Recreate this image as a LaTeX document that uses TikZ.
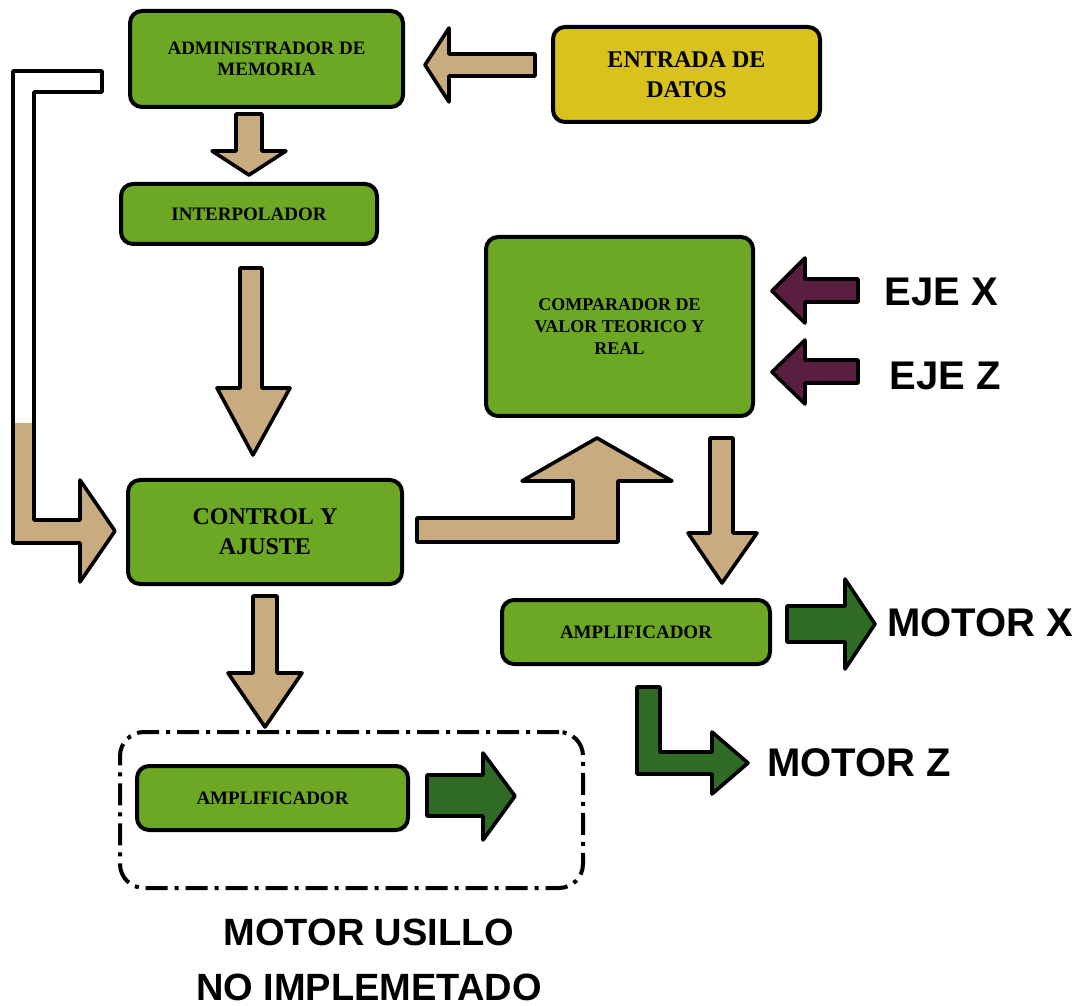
\documentclass[tikz,border=0pt]{standalone}
\usepackage{fontspec}
\setmainfont{Liberation Serif}
\newfontfamily\labelfont{Liberation Sans}
\usepackage{xcolor}
\usepackage{tikz}
\definecolor{boxgreen}{HTML}{6CA823}
\definecolor{datayellow}{HTML}{D8C21B}
\definecolor{arrowtan}{HTML}{C9AB80}
\definecolor{motorgreen}{HTML}{2F6B24}
\definecolor{axispurple}{HTML}{5A1F40}

\begin{document}
\begin{tikzpicture}[
    x=0.5pt, y=-0.5pt,
    block/.style={draw, line width=2pt, rounded corners=6pt, fill=boxgreen, align=center, inner sep=2pt},
    small/.style={font=\fontsize{9.5}{10.5}\selectfont\bfseries},
    large/.style={font=\fontsize{12}{15}\selectfont\bfseries},
    bigtext/.style={font=\labelfont\bfseries\fontsize{20}{24}\selectfont, inner sep=0pt, align=center},
    tanarrow/.style={draw, line width=1.8pt, line join=round, fill=arrowtan},
    motorarrow/.style={draw, line width=1.8pt, line join=round, fill=motorgreen},
    axisarrow/.style={draw, line width=1.8pt, line join=round, fill=axispurple}
]
\useasboundingbox (0,0) rectangle (1084,1006);

% blocks
\node[block, small, minimum width=136.5pt, minimum height=48pt] (admin) at (266.5,59) {ADMINISTRADOR DE\\MEMORIA};
\node[block, large, fill=datayellow, minimum width=133.5pt, minimum height=47.5pt] (entrada) at (686.5,74.5) {ENTRADA DE\\DATOS};
\node[block, small, minimum width=128pt, minimum height=30pt] (interp) at (249,214) {INTERPOLADOR};
\node[block, font=\fontsize{9}{11}\selectfont\bfseries, minimum width=133.5pt, minimum height=89.5pt] (comp) at (619.5,326.5) {COMPARADOR DE\\VALOR TEORICO Y\\REAL};
\node[block, large, minimum width=137pt, minimum height=52pt] (control) at (265,532) {CONTROL Y\\AJUSTE};
\node[block, small, minimum width=134pt, minimum height=32pt] (ampx) at (636,632) {AMPLIFICADOR};
\node[block, small, minimum width=135.5pt, minimum height=32pt] (amps) at (272.5,798) {AMPLIFICADOR};

% spindle part, not built
\node[draw, line width=2pt, dash pattern=on 11pt off 3.5pt on 2pt off 3.5pt, rounded corners=12pt,
      minimum width=231.5pt, minimum height=78pt] (frame) at (351.5,810) {};

% labels
\node[bigtext, anchor=west] (ejex) at (884,292) {EJE X};
\node[bigtext, anchor=west] (ejez) at (889,376) {EJE Z};
\node[bigtext, anchor=west] (motorx) at (887,623) {MOTOR X};
\node[bigtext, anchor=west] (motorz) at (767,763) {MOTOR Z};
\node[bigtext, font=\labelfont\bfseries\fontsize{19}{27.5}\selectfont] (spindle) at (369,960) {MOTOR USILLO\\NO IMPLEMETADO};

% block arrows
\draw[tanarrow] (535,54) -- (449,54) -- (449,28) -- (425,65) -- (449,102) -- (449,76) -- (535,76) -- cycle;
\draw[tanarrow] (236,114) -- (262,114) -- (262,151) -- (286,151) -- (249,175) -- (212,151) -- (236,151) -- cycle;
\draw[tanarrow] (240,268) -- (262,268) -- (262,388) -- (290,388) -- (253,455) -- (217,388) -- (240,388) -- cycle;
\draw[tanarrow] (253,596) -- (277,596) -- (277,673) -- (302,673) -- (265,727) -- (228,673) -- (253,673) -- cycle;
\draw[tanarrow] (417,518) -- (573,518) -- (573,481) -- (522,481) -- (597,438) -- (672,481) -- (618,481) -- (618,542) -- (417,542) -- cycle;
\draw[tanarrow] (710,438) -- (733,438) -- (733,533) -- (757,533) -- (722,583) -- (688,533) -- (710,533) -- cycle;

% feedback from memory manager
\fill[arrowtan] (13,423) -- (13,543) -- (80,543) -- (80,582) -- (115,531) -- (80,480) -- (80,520) -- (34,520) -- (34,423) -- cycle;
\draw[line width=1.8pt, line join=round] (102,71) -- (13,71) -- (13,543) -- (80,543) -- (80,582) -- (115,531)
    -- (80,480) -- (80,520) -- (34,520) -- (34,92) -- (102,92) -- cycle;

% axis inputs
\draw[axisarrow] (858,279) -- (805,279) -- (805,258) -- (772,291) -- (805,323) -- (805,302) -- (858,302) -- cycle;
\draw[axisarrow] (858,360) -- (805,360) -- (805,340) -- (772,372) -- (805,404) -- (805,383) -- (858,383) -- cycle;

% motor outputs
\draw[motorarrow] (787,606) -- (845,606) -- (845,579) -- (875,624) -- (845,669) -- (845,642) -- (787,642) -- cycle;
\draw[motorarrow] (637,687) -- (660,687) -- (660,752) -- (712,752) -- (712,732) -- (748,763) -- (712,794) -- (712,774) -- (637,774) -- cycle;
\draw[motorarrow] (427,775) -- (483,775) -- (483,753) -- (515,796) -- (483,840) -- (483,816) -- (427,816) -- cycle;
\end{tikzpicture}
\end{document}
